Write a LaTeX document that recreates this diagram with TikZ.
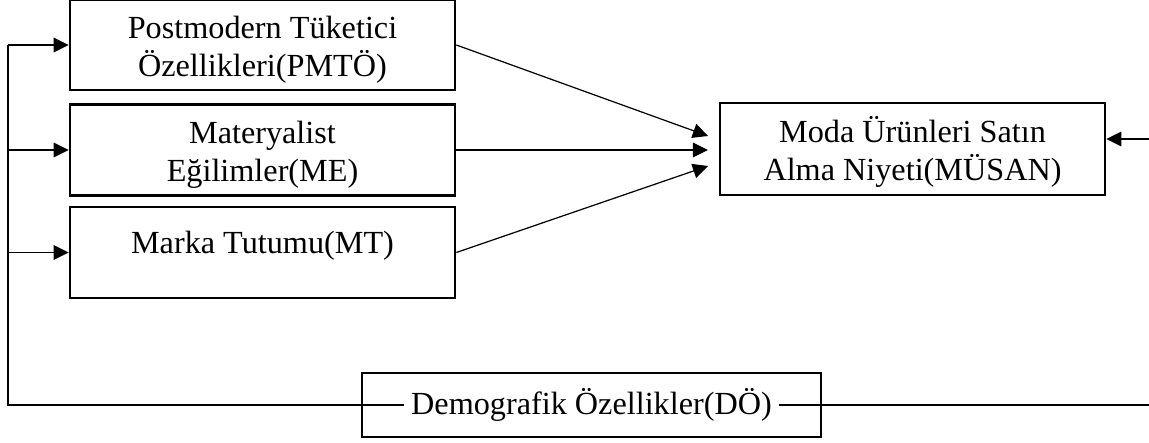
\documentclass[tikz,border=0pt]{standalone}
\usepackage{fontspec}
\setmainfont{Liberation Serif}
\usetikzlibrary{arrows.meta}

\tikzset{
  kutu/.style={draw, line width=1.2pt, align=center, inner sep=0pt,
    font=\fontsize{14.5}{17}\selectfont},
  ikisatir/.style={kutu, text height=31pt, text depth=3pt},
  baglanti/.style={line width=0.55pt},
  ok/.style={baglanti, -{Triangle[length=6.8pt,width=6.6pt]}},
}

\begin{document}
\begin{tikzpicture}[x=0.45pt,y=-0.45pt]
\useasboundingbox (0,0) rectangle (1149,443);

\coordinate (sol) at (8,405);
\coordinate (sag) at (1149,405);
\coordinate (sagok) at (1149,139);
\coordinate (g1) at (708,136);
\coordinate (g2) at (708,151);
\coordinate (g3) at (708,166);

\node[ikisatir, minimum width=173.25pt, minimum height=40.5pt] (pmto) at (262.5,45) {Postmodern Tüketici\\Özellikleri(PMTÖ)};
\node[ikisatir, minimum width=173.25pt, minimum height=41pt] (me) at (262.5,150) {Materyalist\\Eğilimler(ME)};
\node[kutu, minimum width=173.25pt, minimum height=41pt, text depth=9pt] (mt) at (262.5,252.5) {Marka Tutumu(MT)};
\node[ikisatir, minimum width=173.25pt, minimum height=41.4pt] (musan) at (912.5,149) {Moda Ürünleri Satın\\Alma Niyeti(MÜSAN)};
\node[kutu, minimum width=206.5pt, minimum height=28.8pt] (do) at (591.5,405) {};
\node[font=\fontsize{14.5}{17}\selectfont, inner xsep=3pt] (doyazi) at (do.center) {Demografik Özellikler(DÖ)};

% sol taraf
\draw[baglanti] (sol |- pmto.west) -- (sol) -- (doyazi.west);
\draw[ok] (sol |- pmto.west) -- (pmto.west);
\draw[ok] (sol |- me.west) -- (me.west);
\draw[ok] (sol |- mt.west) -- (mt.west);

% niyete giden oklar
\draw[ok] (pmto.east) -- (g1);
\draw[ok] (me.east) -- (me.east -| g2);
\draw[ok] (mt.east) -- (g3);

% sag taraf
\draw[baglanti] (doyazi.east) -- (sag);
\draw[ok] (sagok) -- (sagok -| musan.east);
\end{tikzpicture}
\end{document}
